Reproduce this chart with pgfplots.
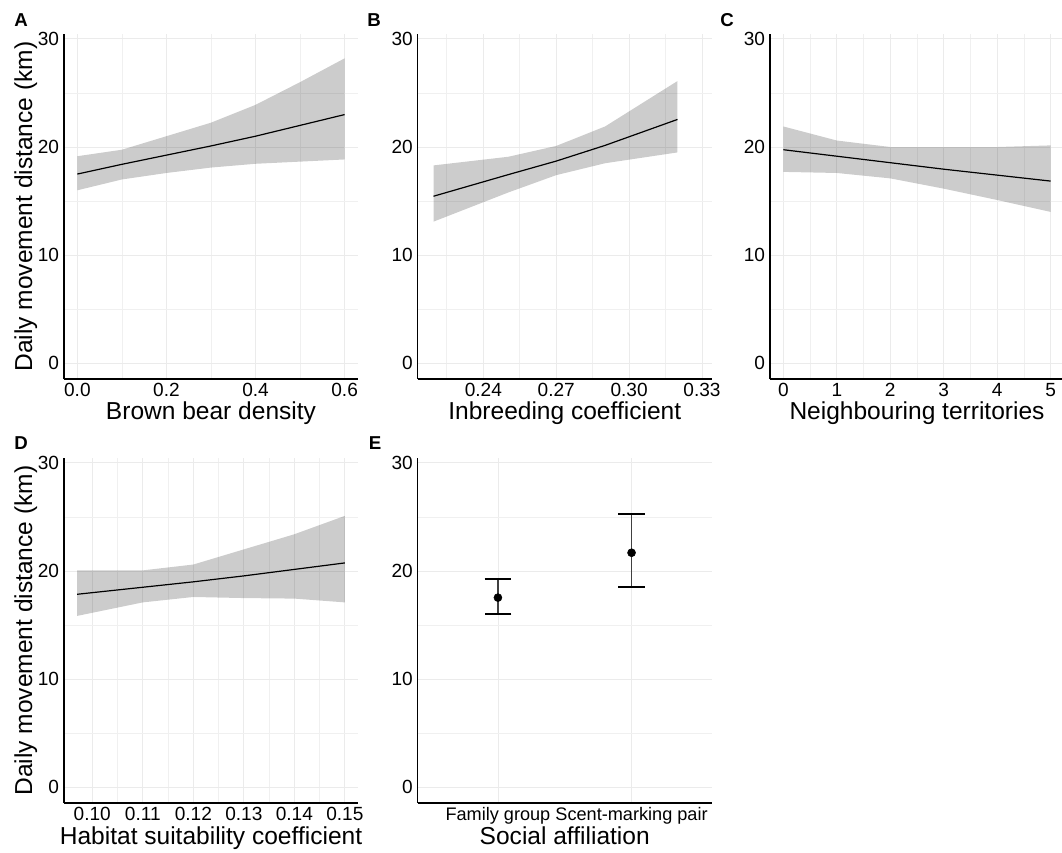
\documentclass[border=0pt]{standalone}
\usepackage{fontspec}
\setmainfont{Liberation Sans}
\usepackage{pgfplots}
\pgfplotsset{compat=1.18}

% tick text always in the text font
\newcommand\tk[1]{\mbox{#1}}

\pgfplotsset{
  panel/.style={
    scale only axis, width=220.5pt, height=258.75pt,
    anchor=south west,
    axis lines=left, axis line style={-, line width=0.9pt, black},
    ymin=-1.45, ymax=30.45,
    ytick={0,10,20,30}, yticklabels={\tk{0},\tk{10},\tk{20},\tk{30}},
    minor ytick={5,15,25},
    grid=both,
    major grid style={line width=0.6pt, draw=black!8},
    minor grid style={line width=0.6pt, draw=black!6},
    major tick length=0pt, minor tick length=0pt,
    tick style={draw=none},
    /pgf/number format/assume math mode=true,
    ticklabel style={font=\fontsize{14.3}{16}\selectfont, text=black},
    xticklabel style={anchor=base, yshift=-13.3pt},
    yticklabel style={anchor=east, inner sep=0pt, xshift=-3.5pt},
    label style={font=\fontsize{18.4}{21}\selectfont},
    xlabel style={at={(axis description cs:0.5,-0.1188)}, anchor=base},
    ylabel style={at={(axis description cs:-0.1088,0.5)}, anchor=base, rotate=0},
  },
  band/.style={fill=black, fill opacity=0.2, draw=none},
  fit/.style={black, line width=0.9pt},
}

\begin{document}
\begin{tikzpicture}
\useasboundingbox (0,0) rectangle (796.5pt,-639pt);

% A: brown bear density
\begin{axis}[panel, at={(48pt,-284.25pt)},
  xmin=-0.03, xmax=0.63,
  xtick={0,0.2,0.4,0.6}, xticklabels={\tk{0.0},\tk{0.2},\tk{0.4},\tk{0.6}},
  minor xtick={0.1,0.3,0.5},
  xlabel={Brown bear density},
  ylabel={Daily movement distance (km)}]
\addplot[band] coordinates {
  (0,19.15) (0.1,19.75) (0.2,21.0) (0.3,22.25) (0.4,23.9) (0.5,26.0) (0.6,28.2)
  (0.6,18.85) (0.5,18.65) (0.4,18.45) (0.3,18.1) (0.2,17.6) (0.1,17.0) (0,16.0)} -- cycle;
\addplot[fit] coordinates {
  (0,17.5) (0.1,18.4) (0.2,19.25) (0.3,20.1) (0.4,21.0) (0.5,22.0) (0.6,23.0)};
\end{axis}

% B: inbreeding coefficient
\begin{axis}[panel, at={(313.3pt,-284.25pt)},
  xmin=0.2130, xmax=0.3340,
  xtick={0.24,0.27,0.30,0.33},
  xticklabels={\tk{0.24},\tk{0.27},\tk{0.30},\tk{0.33}},
  minor xtick={0.225,0.255,0.285,0.315},
  xlabel={Inbreeding coefficient}]
\addplot[band] coordinates {
  (0.2195,18.3) (0.2503,19.1) (0.27,20.1) (0.2901,21.9) (0.3199,26.1)
  (0.3199,19.5) (0.2901,18.5) (0.27,17.4) (0.2503,15.8) (0.2195,13.1)} -- cycle;
\addplot[fit] coordinates {
  (0.2195,15.45) (0.2503,17.45) (0.27,18.7) (0.2901,20.15) (0.3199,22.55)};
\end{axis}

% C: neighbouring territories
\begin{axis}[panel, at={(577.5pt,-284.25pt)},
  xmin=-0.25, xmax=5.25,
  xtick={0,1,2,3,4,5},
  xticklabels={\tk{0},\tk{1},\tk{2},\tk{3},\tk{4},\tk{5}},
  minor xtick={0.5,1.5,2.5,3.5,4.5},
  xlabel={Neighbouring territories}]
\addplot[band] coordinates {
  (0,21.9) (1,20.6) (2,20.0) (3,20.0) (4,20.0) (5,20.15)
  (5,14.0) (4,15.1) (3,16.15) (2,17.1) (1,17.6) (0,17.7)} -- cycle;
\addplot[fit] coordinates {
  (0,19.75) (1,19.15) (2,18.55) (3,17.95) (4,17.4) (5,16.85)};
\end{axis}

% D: habitat suitability
\begin{axis}[panel, at={(48pt,-602.25pt)},
  xmin=0.0944, xmax=0.1526,
  xtick={0.10,0.11,0.12,0.13,0.14,0.15},
  xticklabels={\tk{0.10},\tk{0.11},\tk{0.12},\tk{0.13},\tk{0.14},\tk{0.15}},
  minor xtick={0.105,0.115,0.125,0.135,0.145},
  xlabel={Habitat suitability coefficient},
  ylabel={Daily movement distance (km)}]
\addplot[band] coordinates {
  (0.097,20.06) (0.11,20.06) (0.12,20.6) (0.13,22.0) (0.14,23.4) (0.15,25.1)
  (0.15,17.1) (0.14,17.45) (0.13,17.5) (0.12,17.6) (0.11,17.1) (0.097,15.85)} -- cycle;
\addplot[fit] coordinates {
  (0.097,17.85) (0.11,18.5) (0.12,19.0) (0.13,19.55) (0.14,20.15) (0.15,20.75)};
\end{axis}

% E: social affiliation, mean with 95% interval
\begin{axis}[panel, at={(313.3pt,-602.25pt)},
  xmin=0.4, xmax=2.6,
  xtick={1,2}, xticklabels={\tk{Family group},\tk{Scent-marking pair}},
  xticklabel style={font=\fontsize{13.6}{16}\selectfont},
  xlabel={Social affiliation}]
\addplot[only marks, mark=*, mark size=3pt, black,
  error bars/.cd, y dir=both, y explicit,
  error mark=|,
  error bar style={line width=1.2pt, black!75},
  error mark options={line width=1.2pt, mark size=10pt, black}]
  coordinates {
  (1,17.54) += (0,1.75) -= (0,1.54)
  (2,21.69) += (0,3.60) -= (0,3.14)};
\end{axis}

% panel letters
\begin{scope}[every node/.style={font=\bfseries\fontsize{14}{16}\selectfont}]
\node at (15.75pt,-15pt) {A};
\node at (280.5pt,-15pt) {B};
\node at (545.25pt,-15pt) {C};
\node at (15.75pt,-332.25pt) {D};
\node at (281.25pt,-332.25pt) {E};
\end{scope}
\end{tikzpicture}
\end{document}
